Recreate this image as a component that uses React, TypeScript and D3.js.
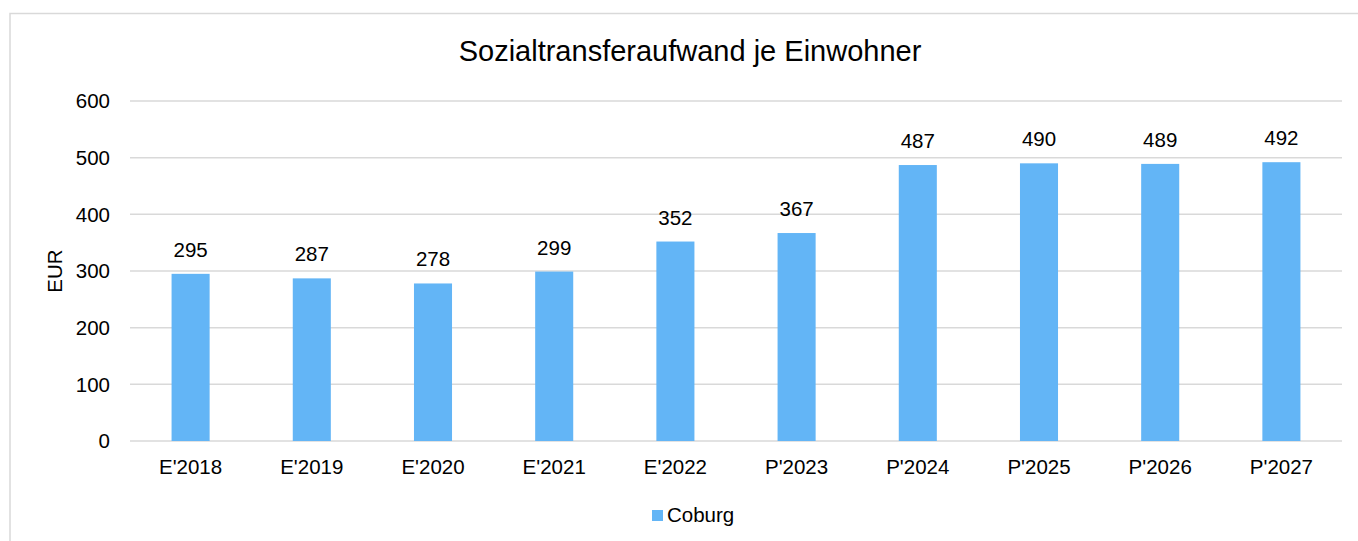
import React from "react";
import * as d3 from "d3";

const categories = ["E'2018", "E'2019", "E'2020", "E'2021", "E'2022", "P'2023", "P'2024", "P'2025", "P'2026", "P'2027"];
const values = [295, 287, 278, 299, 352, 367, 487, 490, 489, 492];
const yTicks = [0, 100, 200, 300, 400, 500, 600];
const title = "Sozialtransferaufwand je Einwohner";
const yLabel = "EUR";
const seriesName = "Coburg";

const W = 1358;
const H = 541;
const FONT = "'Liberation Sans', Arial, sans-serif";
const BAR = "#63b5f6";
const GRID = "#d9d9d9";

export default function App() {
  const x = d3.scaleBand<string>().domain(categories).range([130, 1342]).paddingInner(0.686).paddingOuter(0.343);
  const y = d3.scaleLinear().domain([0, 600]).range([441, 101]);

  return (
    <svg width={W} height={H} style={{ position: "absolute", left: 0, top: 0, display: "block" }} fontFamily={FONT}>
      <rect x={0} y={0} width={W} height={H} fill="#ffffff" />
      <rect x={10} y={13.5} width={W + 20} height={H + 20} fill="#ffffff" stroke={GRID} strokeWidth={1.5} />
      <text x={690} y={61} textAnchor="middle" fontSize={29} fill="#000">{title}</text>
      {yTicks.map((t) => (
        <g key={t}>
          <line x1={130} x2={1342} y1={y(t)} y2={y(t)} stroke={GRID} strokeWidth={1.5} />
          <text x={110} y={y(t)} dy="0.36em" textAnchor="end" fontSize={20.5} fill="#000">{t}</text>
        </g>
      ))}
      <text transform={`translate(${62},${271}) rotate(-90)`} textAnchor="middle" fontSize={20.5} fill="#000">{yLabel}</text>
      {categories.map((c, i) => (
        <g key={c}>
          <rect x={x(c)} y={y(values[i])} width={x.bandwidth()} height={y(0) - y(values[i])} fill={BAR} />
          <text x={(x(c) as number) + x.bandwidth() / 2} y={y(values[i]) - 17} textAnchor="middle" fontSize={20.5} fill="#000">{values[i]}</text>
          <text x={(x(c) as number) + x.bandwidth() / 2} y={474} textAnchor="middle" fontSize={20.5} fill="#000">{c}</text>
        </g>
      ))}
      <rect x={652} y={510} width={11} height={11} fill={BAR} />
      <text x={667} y={521.5} fontSize={20.5} fill="#000">{seriesName}</text>
    </svg>
  );
}
